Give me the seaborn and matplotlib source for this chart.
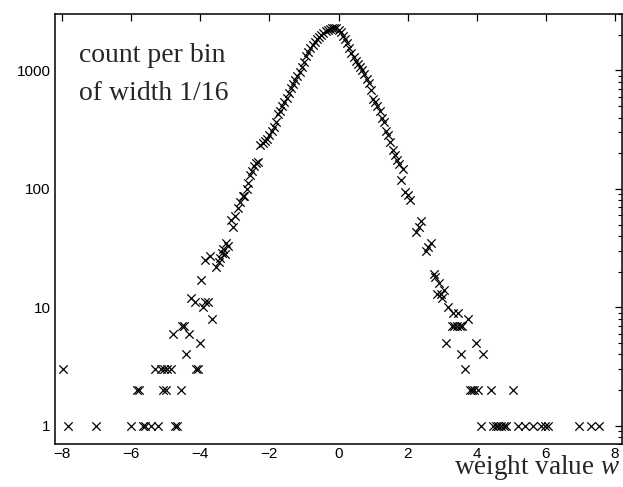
import numpy as np
import pandas as pd
import seaborn as sns
import matplotlib
matplotlib.use("Agg")
import matplotlib.pyplot as plt
from matplotlib.ticker import FixedLocator, FixedFormatter, LogLocator, NullFormatter

# weight value (bin position) and count per bin
left_tail_w = [-7.97, -7.82, -7.00, -6.01, -5.83, -5.78, -5.66, -5.60, -5.42, -5.32,
               -5.22, -5.13, -5.08, -5.05, -4.98, -4.95, -4.84, -4.79, -4.74, -4.67,
               -4.57, -4.52, -4.46, -4.40, -4.31, -4.26, -4.15, -4.13, -4.07, -4.02,
               -3.97, -3.92, -3.87, -3.85, -3.78, -3.73, -3.65]
left_tail_n = [3, 1, 1, 1, 2, 2, 1, 1, 1, 3,
               1, 3, 2, 3, 2, 3, 3, 6, 1, 1,
               2, 7, 7, 4, 6, 12, 11, 3, 3, 5,
               17, 10, 11, 25, 11, 27, 8]

left_mid_w = [-3.53, -3.47, -3.42, -3.38, -3.33, -3.27, -3.24, -3.19, -3.10, -3.04,
              -2.98, -2.91, -2.84, -2.77, -2.72, -2.66, -2.62, -2.57, -2.50, -2.43,
              -2.38, -2.33, -2.28]
left_mid_n = [22, 24, 26, 29, 31, 28, 35, 33, 55, 48,
              59, 69, 78, 87, 87, 100, 112, 132, 142, 155,
              166, 170, 236]

core_w = [-2.1875, -2.125, -2.0625, -2.0, -1.9375, -1.875, -1.8125, -1.75, -1.6875, -1.625,
          -1.5625, -1.5, -1.4375, -1.375, -1.3125, -1.25, -1.1875, -1.125, -1.0625, -1.0,
          -0.9375, -0.875, -0.8125, -0.75, -0.6875, -0.625, -0.5625, -0.5, -0.4375, -0.375,
          -0.3125, -0.25, -0.1875, -0.125, -0.0625, 0.0, 0.0625, 0.125, 0.1875, 0.25,
          0.3125, 0.375, 0.4375, 0.5, 0.5625, 0.625, 0.6875, 0.75, 0.8125, 0.875,
          0.9375, 1.0, 1.0625, 1.125, 1.1875, 1.25, 1.3125, 1.375, 1.4375, 1.5,
          1.5625, 1.625, 1.6875, 1.75, 1.8125, 1.875, 1.9375, 2.0, 2.0625]
core_n = [245, 252, 262, 285, 310, 335, 370, 425, 455, 505,
          540, 590, 645, 710, 765, 830, 900, 980, 1070, 1180,
          1330, 1430, 1560, 1650, 1730, 1830, 1920, 2000, 2090, 2160,
          2210, 2250, 2300, 2270, 2290, 2200, 2110, 1960, 1830, 1700,
          1540, 1400, 1300, 1210, 1140, 1080, 1010, 930, 850, 780,
          690, 570, 545, 500, 455, 400, 370, 310, 285, 250,
          215, 195, 175, 162, 120, 146, 95, 89, 81]

right_mid_w = [2.25, 2.34, 2.39, 2.53, 2.58, 2.68, 2.75, 2.80, 2.85, 2.92,
               2.97, 3.00, 3.05, 3.11, 3.16, 3.27, 3.30, 3.35, 3.42, 3.45,
               3.50, 3.55, 3.58, 3.67, 3.74, 3.79, 3.85, 3.91, 3.98, 4.03,
               4.12, 4.17, 4.41]
right_mid_n = [43, 48, 54, 30, 32, 35, 19, 18, 13, 16,
               13, 12, 14, 5, 10, 7, 9, 7, 7, 9,
               7, 4, 7, 3, 8, 2, 2, 2, 5, 2,
               1, 4, 2]

right_tail_w = [4.47, 4.55, 4.62, 4.70, 4.78, 4.85, 5.06, 5.18, 5.40, 5.64,
                5.86, 5.98, 6.05, 6.95, 7.30, 7.54]
right_tail_n = [1, 1, 1, 1, 1, 1, 2, 1, 1, 1,
                1, 1, 1, 1, 1, 1]

weights = pd.DataFrame({
    "w": left_tail_w + left_mid_w + core_w + right_mid_w + right_tail_w,
    "count": left_tail_n + left_mid_n + core_n + right_mid_n + right_tail_n,
})

sns.set_style("white")
plt.rcParams["font.family"] = ["Liberation Sans", "DejaVu Sans"]
plt.rcParams["mathtext.fontset"] = "custom"
plt.rcParams["mathtext.rm"] = "Liberation Serif"
plt.rcParams["mathtext.it"] = "Liberation Serif:italic"

fig = plt.figure(figsize=(6.23, 4.87), dpi=100)
ax = fig.add_axes([55 / 623, 1 - 444 / 487, 567 / 623, 430 / 487])

sns.scatterplot(data=weights, x="w", y="count", marker="x", color="black",
                s=36, linewidth=0.9, ax=ax, legend=False)

ax.set_yscale("log")
ax.set_xlim(-8.2, 8.2)
ax.set_ylim(0.7, 3000)

ax.xaxis.set_major_locator(FixedLocator([-8, -6, -4, -2, 0, 2, 4, 6, 8]))
ax.xaxis.set_major_formatter(FixedFormatter(["\u22128", "\u22126", "\u22124", "\u22122",
                                             "0", "2", "4", "6", "8"]))
ax.yaxis.set_major_locator(FixedLocator([1, 10, 100, 1000]))
ax.yaxis.set_major_formatter(FixedFormatter(["1", "10", "100", "1000"]))
ax.yaxis.set_minor_locator(LogLocator(base=10, subs=np.arange(2, 10)))
ax.yaxis.set_minor_formatter(NullFormatter())

ax.tick_params(which="both", direction="in", top=True, right=True, labelsize=11,
               color="black", labelcolor="black")
ax.tick_params(which="major", length=5, width=0.9, pad=3)
ax.tick_params(axis="x", which="major", pad=2)
ax.tick_params(which="minor", length=3, width=0.8)
for sp in ax.spines.values():
    sp.set_linewidth(1.1)
    sp.set_color("black")

ax.set_xlabel("")
ax.set_ylabel("")

fig.text(79 / 623, 1 - 62 / 487, "count per bin", family="Liberation Serif",
         fontsize=20, va="baseline", ha="left")
fig.text(79 / 623, 1 - 100 / 487, "of width 1/16", family="Liberation Serif",
         fontsize=20, va="baseline", ha="left")
fig.text(620 / 623, 1 - 474 / 487, r"weight value $w$", family="Liberation Serif",
         fontsize=19.5, va="baseline", ha="right")

fig.savefig("out.png", dpi=100)
